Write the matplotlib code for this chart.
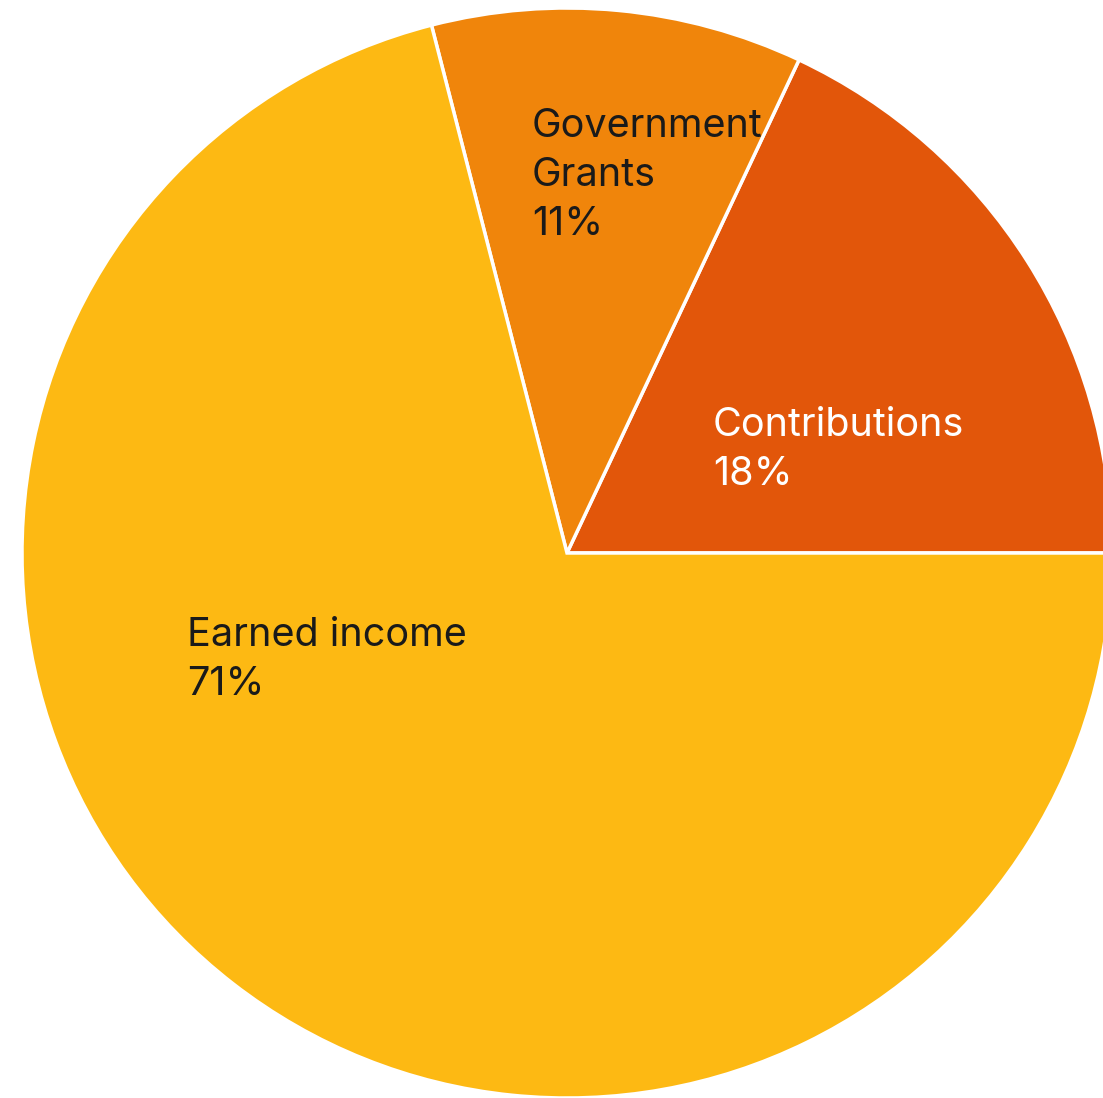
import matplotlib
matplotlib.use("Agg")
from matplotlib import pyplot as plt

# revenue sources, drawn counterclockwise from 3 o'clock
sources = ["Contributions", "Government\nGrants", "Earned income"]
shares = [18, 11, 71]
colors = ["#E2560A", "#F0850B", "#FDB913"]
text_colors = ["white", "#1a1a1a", "#1a1a1a"]

W, H = 1103, 1098
fig = plt.figure(figsize=(W / 100, H / 100), dpi=100)
ax = fig.add_axes([0, 0, 1, 1])

cx, cy, r = 567, H - 553, 545
ax.pie(shares, colors=colors, startangle=0, counterclock=True,
       center=(cx, cy), radius=r, frame=True,
       wedgeprops=dict(edgecolor="white", linewidth=2.5))
ax.set_xlim(0, W)
ax.set_ylim(0, H)
ax.set_aspect("equal")
ax.axis("off")

# label anchor points (left edge, first baseline) in pixels from top-left
label_pos = [(713, 436), (532, 137), (187, 646)]
line_step = 49
for name, val, tc, (x, y) in zip(sources, shares, text_colors, label_pos):
    lines = name.split("\n") + [f"{val}%"]
    for i, line in enumerate(lines):
        ax.text(x, H - (y + i * line_step), line, color=tc, fontsize=28.5,
                family="Inter", ha="left", va="baseline")

fig.savefig("out.png", dpi=100)
